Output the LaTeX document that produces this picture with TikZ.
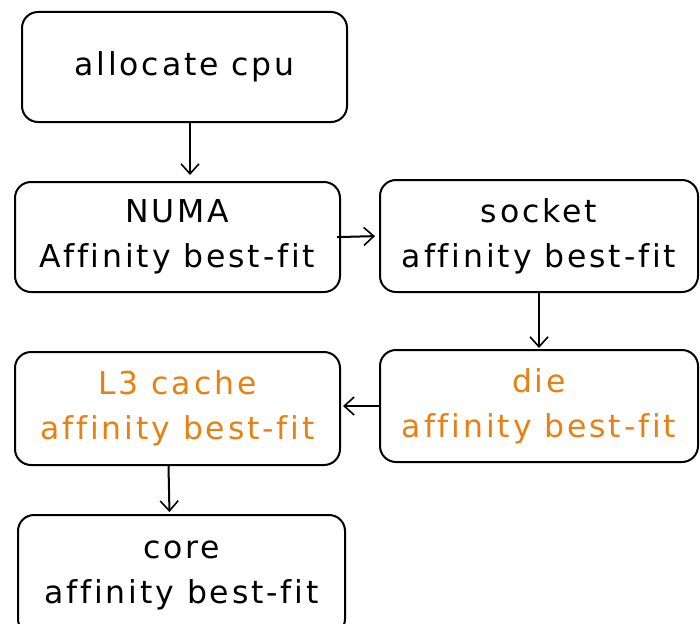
\documentclass[tikz,border=0pt]{standalone}
\usepackage{fontspec}
\setmainfont[LetterSpace=9,Ligatures=NoCommon]{DejaVu Sans}
\usepackage{xcolor}
\usetikzlibrary{arrows.meta}
\definecolor{exorange}{RGB}{232,128,20}

\begin{document}
\begin{tikzpicture}[x=1pt,y=-1pt,line width=2pt,
    box/.style={draw,rounded corners=16pt,align=center,font=\fontsize{31.5}{45}\selectfont},
    hot/.style={box,text=exorange},
    >={Straight Barb[length=10pt,width=18pt,line width=1.6pt]}]
    \useasboundingbox (0,0) rectangle (700,623);
    \node[box,minimum width=325pt,minimum height=110pt] (alloc) at (184.5,67) {allocate cpu};
    \node[box,minimum width=325pt,minimum height=110pt] (numa) at (177.5,237) {NUMA\\Affinity best-fit};
    \node[box,minimum width=318pt,minimum height=112pt] (socket) at (539,236) {socket\\affinity best-fit};
    \node[hot,minimum width=318pt,minimum height=112pt] (die) at (539,406) {die\\affinity best-fit};
    \node[hot,minimum width=325pt,minimum height=113pt] (lthree) at (177.5,408.5) {L3 cache\\affinity best-fit};
    \node[box,minimum width=327pt,minimum height=120pt] (core) at (181.5,575) {core\\affinity best-fit};
    \draw[->,shorten >=6pt] ([xshift=5.5pt]alloc.south) -- ([xshift=12.5pt]numa.north);
    \draw[->,shorten <=-4pt,shorten >=4pt] (numa.east) -- (socket.west);
    \draw[->,shorten >=1pt] (socket.south) -- (die.north);
    \draw[->,shorten >=2pt] (die.west) -- (die.west -| lthree.east);
    \draw[->,shorten >=2pt] ([xshift=-9pt]lthree.south) -- ([xshift=-12pt]core.north);
  \end{tikzpicture}
\end{document}
